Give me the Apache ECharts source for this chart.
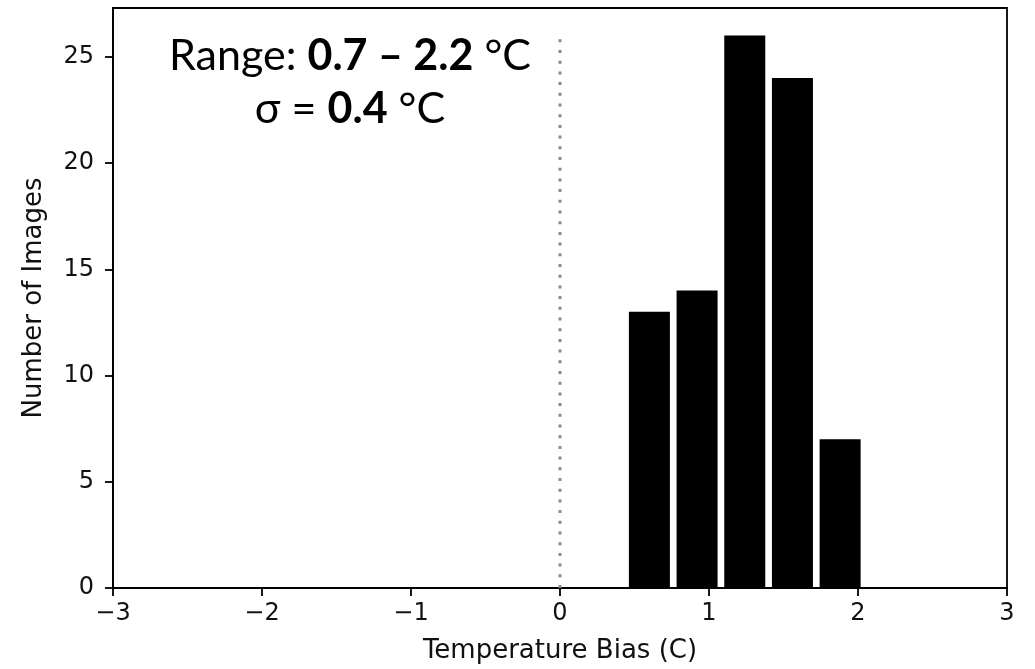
<!DOCTYPE html>
<html><head><meta charset="utf-8">
<script src="https://cdn.jsdelivr.net/npm/echarts@6/dist/echarts.min.js"></script>
<style>html,body{margin:0;padding:0;background:#fff}#c{width:1035px;height:669px}</style>
</head><body><div id="c"></div>
<script>
const binEdges = [0.44, 0.76, 1.08, 1.40, 1.72, 2.04];
const counts = [13, 14, 26, 24, 7];
const xTicks = [-3, -2, -1, 0, 1, 2, 3];
const yTicks = [0, 5, 10, 15, 20, 25];
const refLineX = 0;
const refLineTop = 26;

const barData = counts.map((c, i) => [binEdges[i], binEdges[i + 1], c]);
const chart = echarts.init(document.getElementById('c'));
const F = 'DejaVu Sans';
const tfs = 24, nfs = 26;
chart.setOption({
  animation: false,
  grid: { left: 113, right: 28, top: 8, bottom: 79, show: true, borderColor: '#000', borderWidth: 1.8 },
  xAxis: {
    type: 'value', min: -3, max: 3, interval: 1,
    name: 'Temperature Bias (C)', nameLocation: 'middle', nameGap: 50,
    nameTextStyle: { fontFamily: F, fontSize: nfs, color: '#111' },
    axisLine: { show: true, onZero: false, lineStyle: { color: '#000', width: 1.8 } },
    axisTick: { show: true, inside: false, length: 8, lineStyle: { color: '#000', width: 1.8 } },
    axisLabel: { fontFamily: F, fontSize: tfs, color: '#111', margin: 14,
      formatter: v => (v < 0 ? '\u2212' + Math.abs(v) : String(v)) },
    splitLine: { show: false }
  },
  yAxis: {
    type: 'value', min: 0, max: 27.3, interval: 5,
    name: 'Number of Images', nameLocation: 'middle', nameGap: 66,
    nameTextStyle: { fontFamily: F, fontSize: nfs, color: '#111' },
    axisLine: { show: true, onZero: false, lineStyle: { color: '#000', width: 1.8 } },
    axisTick: { show: true, inside: false, length: 8, lineStyle: { color: '#000', width: 1.8 } },
    axisLabel: { fontFamily: F, fontSize: tfs, color: '#111', margin: 19,
      showMaxLabel: false, formatter: v => yTicks.includes(v) ? String(v) : '' },
    splitLine: { show: false }
  },
  series: [{
    type: 'custom',
    data: barData,
    encode: { x: [0, 1], y: 2 },
    renderItem: function (params, api) {
      const x0 = api.value(0), x1 = api.value(1), h = api.value(2);
      const c = (x0 + x1) / 2, hw = (x1 - x0) * 0.86 / 2;
      const p0 = api.coord([c - hw, h]);
      const p1 = api.coord([c + hw, 0]);
      return { type: 'rect', shape: { x: p0[0], y: p0[1], width: p1[0] - p0[0], height: p1[1] - p0[1] },
        style: { fill: '#000' } };
    },
    z: 2
  }, {
    type: 'line',
    data: [[refLineX, 0], [refLineX, refLineTop]],
    symbol: 'none',
    lineStyle: { color: '#8a8a8a', width: 3, type: [3, 7.7] },
    z: 1
  }],
  graphic: [{
    type: 'text', x: 350, y: 30,
    style: {
      text: '{n|Range: }{b|0.7 \u2013 2.2}{n| \u00b0C}\n{n|\u03c3 = }{b|0.4}{n| \u00b0C}',
      align: 'center', verticalAlign: 'top',
      rich: {
        n: { fontFamily: 'Lato', fontSize: 43, lineHeight: 53, fill: '#000', align: 'center' },
        b: { fontFamily: 'Lato', fontWeight: 'bold', fontSize: 43, lineHeight: 53, fill: '#000', align: 'center' }
      }
    }
  }]
});
</script></body></html>
